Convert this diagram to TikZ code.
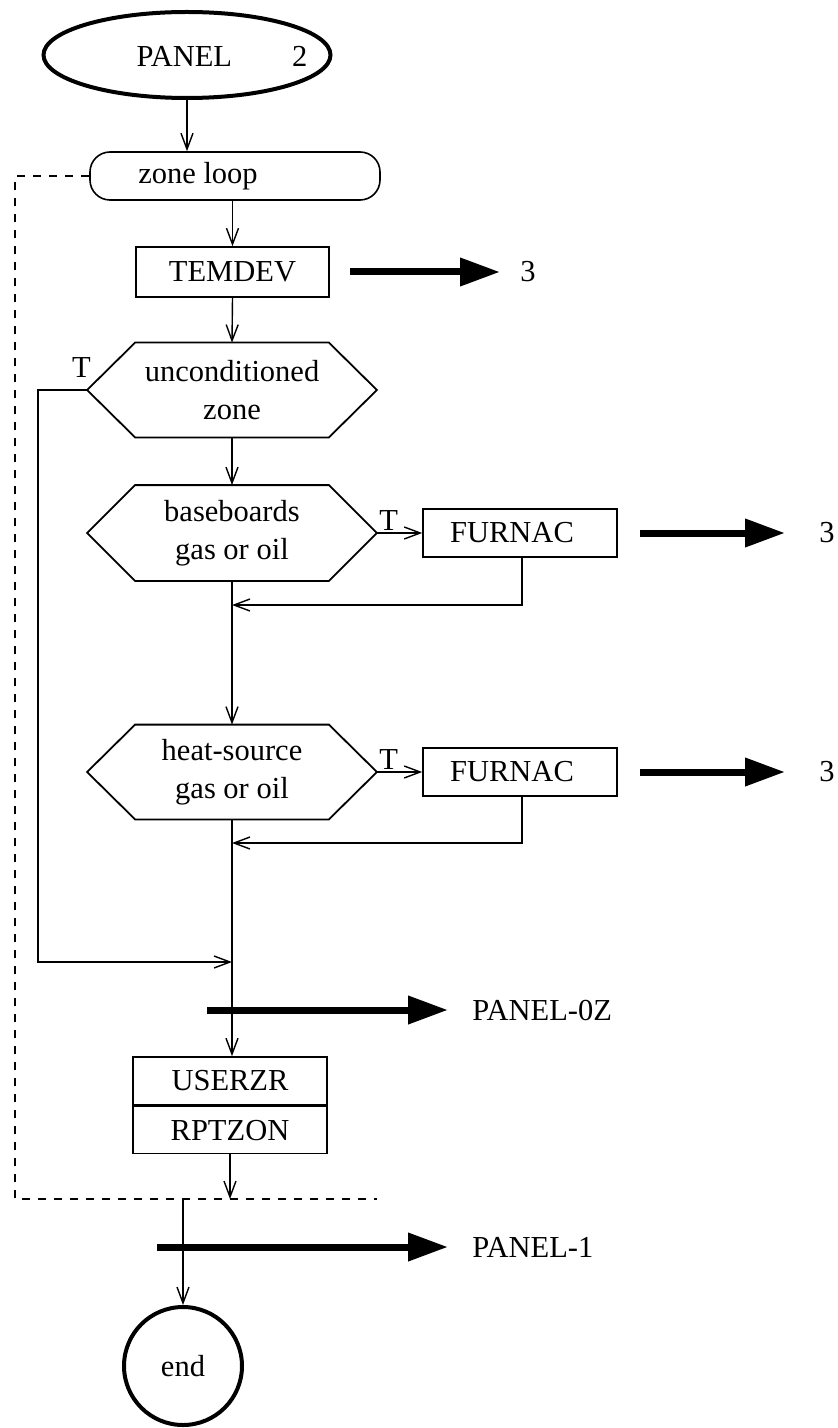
\documentclass[tikz,border=0pt]{standalone}
\usepackage{fontspec}
\setmainfont{Liberation Serif}
\usetikzlibrary{arrows.meta,shapes.geometric}
\newcommand\hexout[1]{\draw[hexline] (#1.west) -- ([xshift=24pt]#1.north west) -- ([xshift=-24pt]#1.north east) -- (#1.east) -- ([xshift=-24pt]#1.south east) -- ([xshift=24pt]#1.south west) -- cycle;}
\begin{document}
\begin{tikzpicture}[x=0.5pt,y=-0.5pt,
  font=\fontsize{15.25pt}{19pt}\selectfont,
  >={Straight Barb[length=8pt,width=6pt]},
  conn/.style={line width=0.7pt},
  box/.style={draw, line width=0.8pt, rectangle, minimum width=97pt, minimum height=24pt, inner sep=0pt},
  hexn/.style={rectangle, minimum width=144.5pt, minimum height=47pt, inner sep=0pt, align=center},
  hexline/.style={line width=0.9pt, line join=miter},
  big/.style={line width=3.5pt, -{Triangle[length=20pt,width=13.5pt]}},
  loopline/.style={line width=0.8pt, dash pattern=on 4pt off 4pt},
  tlab/.style={inner sep=1pt},
  ]
\useasboundingbox (0,0) rectangle (838,1428);

% start
\node[ellipse, draw, line width=2pt, minimum width=143.5pt, minimum height=43pt, inner sep=0pt] (panel) at (187,55) {};
\node (paneltxt) at (222,56) {PANEL\kern30pt 2};

\node[draw, rounded corners=10pt, line width=0.8pt, minimum width=145pt, minimum height=24pt, inner sep=0pt] (zone) at (235,176) {zone loop\kern37pt};
\draw[conn,->] (panel.south) -- (panel.south |- zone.north);

\node[box, minimum width=96.5pt, minimum height=25pt] (temdev) at (232.5,272) {TEMDEV};
\draw[conn,->] (temdev.north |- zone.south) -- (temdev.north);
\coordinate (b1s) at (350,272);
\coordinate (b1e) at (500,272);
\node (three1) at (528,272) {3};
\draw[big] (b1s) -- (b1e);

% decision 1
\node[hexn] (h1) at (232,390) {unconditioned\\zone};
\hexout{h1}
\draw[conn,->] (temdev.south) -- (h1.north);
\node[tlab, anchor=south east] (t1) at ([xshift=3pt,yshift=5pt]h1.west) {T};

% decision 2
\node[hexn, minimum height=47.5pt] (h2) at (232,533) {baseboards\\gas or oil};
\hexout{h2}
\draw[conn,->] (h1.south) -- (h2.north);
\node[tlab, anchor=south west] (t2) at (h2.east) {T};
\node[box] (f1) at (520,533) {FURNAC\kern8pt};
\draw[conn,->] (h2.east) -- (f1.west);
\coordinate (j1) at (232,605);
\draw[conn,->] ([xshift=1pt]f1.south) |- (j1);
\coordinate (b2s) at (640,533);
\coordinate (b2e) at (785,533);
\node (three2) at (827,533) {3};
\draw[big] (b2s) -- (b2e);

% decision 3
\node[hexn] (h3) at (232,772) {heat-source\\gas or oil};
\hexout{h3}
\draw[conn,->] (h2.south) -- (h3.north);
\node[tlab, anchor=south west] (t3) at (h3.east) {T};
\node[box] (f2) at (520,772) {FURNAC\kern8pt};
\draw[conn,->] (h3.east) -- (f2.west);
\coordinate (j2) at (232,843);
\draw[conn,->] ([xshift=1pt]f2.south) |- (j2);
\coordinate (b3s) at (640,772);
\coordinate (b3e) at (785,772);
\node (three3) at (827,772) {3};
\draw[big] (b3s) -- (b3e);

% bypass from decision 1
\coordinate (j3) at (232,962);
\draw[conn,->] (h1.west) -- ++(-49,0) |- (j3);

% report boxes
\node[box] (usr) at (230,1081) {USERZR};
\node[box, minimum height=23.5pt, anchor=north] (rpt) at (usr.south) {RPTZON};
\draw[conn,->] (h3.south) -- (h3.south |- usr.north);

\coordinate (b4s) at (207,1010);
\coordinate (b4e) at (448,1010);
\node[anchor=west, inner sep=0pt] (p0z) at (472,1010) {PANEL-0Z};
\draw[big] (b4s) -- (b4e);

% loop boundary
\coordinate (dl) at (230,1199);
\coordinate (lc) at (15,1199);
\coordinate (lend) at (377,1199);
\draw[loopline] (zone.west) -| (lc) -- (lend);
\draw[conn,->] (rpt.south) -- (dl);

% end
\coordinate (dx) at (183,1199);
\node[circle, draw, line width=2pt, minimum size=59pt, inner sep=0pt] (endn) at (183,1366) {end};
\draw[conn,->] (dx) -- (endn.north);
\coordinate (b5s) at (157,1247);
\coordinate (b5e) at (448,1247);
\node[anchor=west, inner sep=0pt] (p1) at (472,1247) {PANEL-1};
\draw[big] (b5s) -- (b5e);
\end{tikzpicture}
\end{document}
